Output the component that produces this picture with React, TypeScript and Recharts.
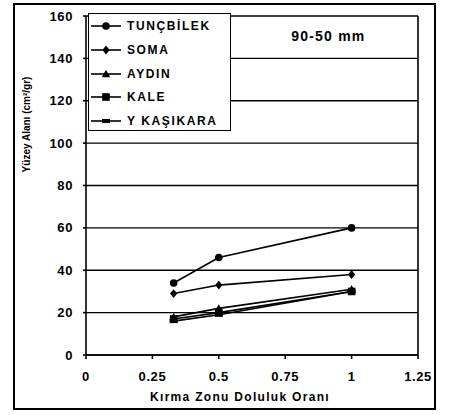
import React from "react";
import {
  LineChart,
  Line,
  XAxis,
  YAxis,
  CartesianGrid,
  ReferenceLine,
  Customized,
} from "recharts";

const xRatio = [0.33, 0.5, 1];
const tuncbilek = [34, 46, 60];
const soma = [29, 33, 38];
const aydin = [18, 22, 31];
const kale = [17, 20, 30];
const ykasikara = [16, 19, 30];

const seriesNames = ["TUNÇBİLEK", "SOMA", "AYDIN", "KALE", "Y KAŞIKARA"];
const seriesKeys = ["tuncbilek", "soma", "aydin", "kale", "ykasikara"];
const seriesShapes = ["circle", "diamond", "triangle", "square", "dash"];
const seriesValues = [tuncbilek, soma, aydin, kale, ykasikara];

const xTicks = [0, 0.25, 0.5, 0.75, 1, 1.25];
const xTickLabels = ["0", "0.25", "0.5", "0.75", "1", "1.25"];
const yTicks = [0, 20, 40, 60, 80, 100, 120, 140, 160];

const titleText = "90-50 mm";
const xLabel = "Kırma Zonu Doluluk Oranı";
const yLabel = "Yüzey Alanı (cm²/gr)";

const data = xRatio.map((x, i) => {
  const row: Record<string, number> = { x };
  seriesKeys.forEach((k, j) => {
    row[k] = seriesValues[j][i];
  });
  return row;
});

const FONT = "'Liberation Sans', Arial, sans-serif";

function markerShape(shape: string, cx: number, cy: number, key?: string) {
  switch (shape) {
    case "circle":
      return <circle key={key} cx={cx} cy={cy} r={3.8} fill="#000" />;
    case "diamond":
      return (
        <path
          key={key}
          d={`M${cx},${cy - 4.4} L${cx + 3.6},${cy} L${cx},${cy + 4.4} L${cx - 3.6},${cy} Z`}
          fill="#000"
        />
      );
    case "triangle":
      return (
        <path
          key={key}
          d={`M${cx},${cy - 4.2} L${cx + 4.2},${cy + 3.2} L${cx - 4.2},${cy + 3.2} Z`}
          fill="#000"
        />
      );
    case "square":
      return <rect key={key} x={cx - 3.8} y={cy - 3.8} width={7.6} height={7.6} fill="#000" />;
    default:
      return <rect key={key} x={cx - 4} y={cy - 2} width={8} height={4} fill="#000" />;
  }
}

const makeDot = (shape: string) => (props: any) => {
  const { cx, cy, index } = props;
  return markerShape(shape, cx, cy, `${shape}-${index}`);
};

const LegendBox = () => (
  <div
    style={{
      position: "absolute",
      left: 88,
      top: 13,
      width: 143,
      height: 118,
      border: "1.5px solid #000",
      background: "#fff",
      boxSizing: "border-box",
    }}
  >
    {seriesNames.map((name, i) => (
      <div
        key={name}
        style={{
          position: "absolute",
          left: 0,
          top: 2 + i * 23.8,
          height: 20,
          display: "flex",
          alignItems: "center",
          whiteSpace: "nowrap",
        }}
      >
        <svg width={36} height={20}>
          <line x1={2} y1={10} x2={32} y2={10} stroke="#000" strokeWidth={1.6} />
          {markerShape(seriesShapes[i], 17, 10)}
        </svg>
        <span
          style={{
            fontFamily: FONT,
            fontWeight: "bold",
            fontSize: 12,
            color: "#000",
            letterSpacing: 1.6,
            marginLeft: 2,
          }}
        >
          {name}
        </span>
      </div>
    ))}
  </div>
);

const Title = (props: any) => {
  const offset = props.offset || {};
  const left = offset.left ?? 86;
  const top = offset.top ?? 16;
  const width = offset.width ?? 332;
  return (
    <text
      x={left + width * 0.73}
      y={top + 21}
      textAnchor="middle"
      dominantBaseline="middle"
      fontFamily={FONT}
      fontWeight="bold"
      fontSize={14}
      letterSpacing={1.2}
      fill="#000"
    >
      {titleText}
    </text>
  );
};

const YLabel = (props: any) => {
  const vb = props.viewBox || { x: 0, y: 16, width: 86, height: 339 };
  const cx = vb.x + 27;
  const cy = vb.y + vb.height / 2 - 61;
  return (
    <text
      x={cx}
      y={cy}
      transform={`rotate(-90 ${cx} ${cy})`}
      textAnchor="middle"
      dominantBaseline="middle"
      fontFamily={FONT}
      fontWeight="bold"
      fontSize={10}
      fill="#000"
    >
      {yLabel}
    </text>
  );
};

const XLabel = (props: any) => {
  const vb = props.viewBox || { x: 86, y: 355, width: 332, height: 60 };
  const cx = vb.x + vb.width / 2 - 12;
  const cy = vb.y + 43;
  return (
    <text
      x={cx}
      y={cy}
      textAnchor="middle"
      dominantBaseline="middle"
      fontFamily={FONT}
      fontWeight="bold"
      fontSize={12}
      letterSpacing={1.3}
      fill="#000"
    >
      {xLabel}
    </text>
  );
};

const tickStyle = { fill: "#000", fontSize: 13, fontWeight: "bold", fontFamily: FONT, letterSpacing: 0.6 };

export default function App() {
  return (
    <div style={{ position: "absolute", left: 0, top: 0, width: 450, height: 415, background: "#fff" }}>
      <div
        style={{
          position: "absolute",
          left: 13,
          top: 3,
          width: 423,
          height: 407,
          border: "2px solid #000",
          boxSizing: "border-box",
        }}
      />
      <LineChart
        width={450}
        height={415}
        data={data}
        margin={{ top: 16, right: 32, bottom: 0, left: 0 }}
        style={{ position: "absolute", left: 0, top: 0 }}
      >
        <CartesianGrid vertical={false} stroke="#000" strokeWidth={1.3} />
        <XAxis
          type="number"
          dataKey="x"
          domain={[0, 1.25]}
          ticks={xTicks}
          tickFormatter={(v: number) => xTickLabels[xTicks.indexOf(v)] ?? String(v)}
          axisLine={{ stroke: "#000", strokeWidth: 1.6 }}
          tickLine={{ stroke: "#000", strokeWidth: 1.6 }}
          tickSize={4}
          tickMargin={13}
          tick={tickStyle}
          height={60}
          label={<XLabel />}
        />
        <YAxis
          type="number"
          domain={[0, 160]}
          ticks={yTicks}
          axisLine={{ stroke: "#000", strokeWidth: 1.6 }}
          tickLine={{ stroke: "#000", strokeWidth: 1.6 }}
          tickSize={3}
          tickMargin={10}
          tick={tickStyle}
          width={86}
          label={<YLabel />}
        />
        <ReferenceLine x={1.25} stroke="#000" strokeWidth={1.6} />
        {seriesKeys.map((k, i) => (
          <Line
            key={k}
            dataKey={k}
            name={seriesNames[i]}
            stroke="#000"
            strokeWidth={1.6}
            dot={makeDot(seriesShapes[i])}
            activeDot={false}
            isAnimationActive={false}
            type="linear"
          />
        ))}
        <Customized component={Title} />
      </LineChart>
      <LegendBox />
    </div>
  );
}
